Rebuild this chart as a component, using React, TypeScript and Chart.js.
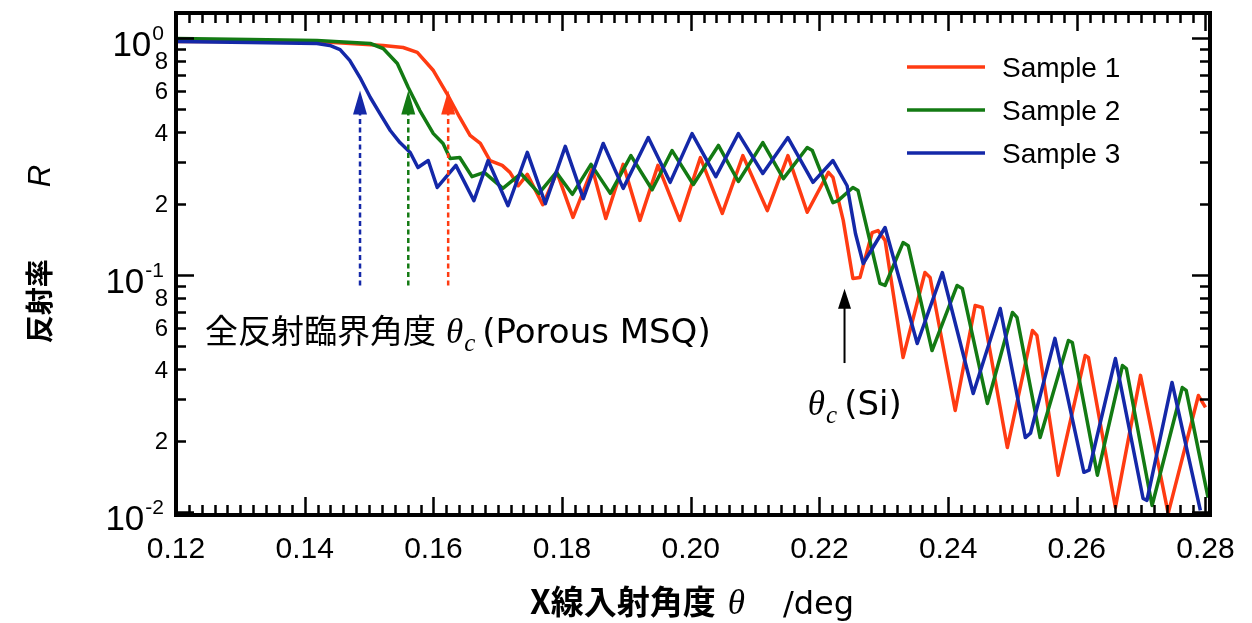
import React, { useEffect, useRef } from "react";
import { Chart, registerables } from "chart.js";

Chart.register(...registerables);

// ---------------- data ----------------
const sample1X = [0.12, 0.1315, 0.1419, 0.1522, 0.1553, 0.1575, 0.16, 0.1621, 0.1641, 0.1657, 0.1673, 0.1688, 0.1707, 0.1719, 0.1732, 0.1746, 0.177, 0.1792, 0.1817, 0.1847, 0.1868, 0.1895, 0.1921, 0.1949, 0.1983, 0.2015, 0.2049, 0.2081, 0.2119, 0.2151, 0.2181, 0.2214, 0.2221, 0.2237, 0.2252, 0.2263, 0.2282, 0.2291, 0.2302, 0.233, 0.2364, 0.2372, 0.2411, 0.2442, 0.2453, 0.2492, 0.2531, 0.2538, 0.2571, 0.2613, 0.2618, 0.266, 0.2699, 0.2742, 0.2789, 0.28];
const sample1R = [0.967, 0.967, 0.967, 0.93, 0.912, 0.869, 0.729, 0.583, 0.462, 0.388, 0.359, 0.304, 0.29, 0.271, 0.238, 0.266, 0.198, 0.271, 0.175, 0.281, 0.173, 0.293, 0.17, 0.29, 0.17, 0.313, 0.182, 0.319, 0.187, 0.319, 0.184, 0.271, 0.258, 0.17, 0.0966, 0.0976, 0.151, 0.154, 0.14, 0.0449, 0.1024, 0.0976, 0.0268, 0.0743, 0.0729, 0.0187, 0.0583, 0.0556, 0.0143, 0.0457, 0.0449, 0.01045, 0.0377, 0.00986, 0.031, 0.0276];

const sample2X = [0.12, 0.1315, 0.1419, 0.1502, 0.1522, 0.1544, 0.1561, 0.1579, 0.16, 0.1615, 0.1626, 0.1641, 0.166, 0.1679, 0.1708, 0.1736, 0.1764, 0.1791, 0.1816, 0.1845, 0.1875, 0.1907, 0.194, 0.1971, 0.2004, 0.2043, 0.2074, 0.2112, 0.2144, 0.2181, 0.2189, 0.2221, 0.2229, 0.2252, 0.226, 0.2294, 0.2302, 0.233, 0.2338, 0.2375, 0.2414, 0.2422, 0.2461, 0.25, 0.2507, 0.2543, 0.2587, 0.2593, 0.2632, 0.2671, 0.2677, 0.2717, 0.2764, 0.277, 0.2804];
const sample2R = [0.995, 0.986, 0.976, 0.948, 0.903, 0.781, 0.618, 0.494, 0.395, 0.359, 0.31, 0.313, 0.26, 0.271, 0.232, 0.268, 0.221, 0.271, 0.219, 0.293, 0.221, 0.319, 0.229, 0.335, 0.241, 0.352, 0.248, 0.362, 0.255, 0.345, 0.335, 0.202, 0.206, 0.234, 0.227, 0.0921, 0.0903, 0.137, 0.133, 0.048, 0.0903, 0.0877, 0.0287, 0.0695, 0.0662, 0.0206, 0.0529, 0.0519, 0.0143, 0.0415, 0.0403, 0.01065, 0.0335, 0.0326, 0.0115];

const sample3X = [0.12, 0.1315, 0.1419, 0.1439, 0.1455, 0.147, 0.1486, 0.1502, 0.1517, 0.1533, 0.1548, 0.1564, 0.1576, 0.1592, 0.1606, 0.1635, 0.1663, 0.1685, 0.1716, 0.1746, 0.1774, 0.1805, 0.1833, 0.1864, 0.1895, 0.1934, 0.1968, 0.2002, 0.2039, 0.2074, 0.2112, 0.2151, 0.219, 0.2221, 0.2243, 0.2256, 0.2268, 0.2302, 0.2352, 0.2391, 0.2439, 0.2481, 0.252, 0.2528, 0.2566, 0.2611, 0.2619, 0.266, 0.2703, 0.2709, 0.2748, 0.2792];
const sample3R = [0.967, 0.957, 0.948, 0.93, 0.894, 0.804, 0.681, 0.561, 0.48, 0.407, 0.362, 0.329, 0.284, 0.304, 0.234, 0.29, 0.206, 0.304, 0.196, 0.329, 0.2, 0.349, 0.21, 0.359, 0.232, 0.38, 0.246, 0.395, 0.26, 0.395, 0.268, 0.38, 0.246, 0.304, 0.238, 0.1496, 0.1118, 0.1586, 0.0514, 0.1024, 0.0316, 0.0722, 0.0206, 0.0215, 0.054, 0.0147, 0.015, 0.0444, 0.0114, 0.0112, 0.0352, 0.01015];

const seriesNames = ["Sample 1", "Sample 2", "Sample 3"];
const seriesColors = ["#ff3b12", "#137a13", "#1428a8"];

const xTickValues = [0.12, 0.14, 0.16, 0.18, 0.2, 0.22, 0.24, 0.26, 0.28];
const xTickLabels = ["0.12", "0.14", "0.16", "0.18", "0.20", "0.22", "0.24", "0.26", "0.28"];
const yDecades = [1, 0.1, 0.01];
const yDecadeExponents = ["0", "-1", "-2"];
const yMinorLabelDigits = [8, 6, 4, 2];

// critical-angle arrows (data units)
const porousCriticalAngles = [0.1623, 0.1561, 0.1486]; // Sample 1, 2, 3
const porousArrowTipR = 0.6;
const porousArrowBottomR = 0.089;
const siCriticalAngle = 0.2239;
const siArrowTipR = 0.0875;
const siArrowBottomR = 0.0425;
const porousLabelAt = { x: 0.1245, r: 0.0515 };
const siLabelAt = { x: 0.2182, r: 0.0257 };

const X_MIN = 0.12;
const X_MAX = 0.2807;
const Y_MIN = 0.00971;
const Y_MAX = 1.275;

// ---------------- drawing helpers ----------------
const SANS = '"Liberation Sans", Arial, sans-serif';
const WIDE = '"DejaVu Sans", "Liberation Sans", sans-serif';
const SERIF = '"Liberation Serif", "DejaVu Serif", serif';
const CJK = '"Noto Sans CJK JP", sans-serif';

type Run = { t: string; font: string; dy?: number; pad?: number };

function runsWidth(ctx: CanvasRenderingContext2D, runs: Run[]) {
  let w = 0;
  for (const r of runs) {
    ctx.font = r.font;
    w += ctx.measureText(r.t).width + (r.pad || 0);
  }
  return w;
}

function drawRuns(
  ctx: CanvasRenderingContext2D,
  runs: Run[],
  x: number,
  y: number,
  align: "left" | "center" | "right"
) {
  const w = runsWidth(ctx, runs);
  let cx = align === "left" ? x : align === "center" ? x - w / 2 : x - w;
  ctx.textAlign = "left";
  ctx.textBaseline = "alphabetic";
  for (const r of runs) {
    ctx.font = r.font;
    if (r.t) ctx.fillText(r.t, cx, y + (r.dy || 0));
    cx += ctx.measureText(r.t).width + (r.pad || 0);
  }
}

function arrowHead(
  ctx: CanvasRenderingContext2D,
  x: number,
  tipY: number,
  w: number,
  h: number
) {
  ctx.beginPath();
  ctx.moveTo(x, tipY);
  ctx.lineTo(x - w / 2, tipY + h);
  ctx.lineTo(x + w / 2, tipY + h);
  ctx.closePath();
  ctx.fill();
}

const decorPlugin = {
  id: "decor",
  afterDraw(chart: any) {
    const { ctx, chartArea: a } = chart;
    const xs = chart.scales.x;
    const ys = chart.scales.y;
    ctx.save();
    ctx.strokeStyle = "#000";
    ctx.fillStyle = "#000";
    ctx.lineCap = "butt";

    // ticks (inward, mirrored)
    ctx.lineWidth = 2.5;
    ctx.beginPath();
    for (let i = 0; i <= 80; i++) {
      const v = X_MIN + i * 0.002;
      const px = Math.round(xs.getPixelForValue(v)) + 0.5;
      if (px > a.right + 1) break;
      const len = i % 10 === 0 ? 18 : 10;
      ctx.moveTo(px, a.bottom);
      ctx.lineTo(px, a.bottom - len);
      ctx.moveTo(px, a.top);
      ctx.lineTo(px, a.top + len);
    }
    for (const d of yDecades) {
      for (let m = 1; m <= 9; m++) {
        const v = m * d;
        if (v < Y_MIN || v > Y_MAX) continue;
        const py = Math.round(ys.getPixelForValue(v)) + 0.5;
        const len = m === 1 ? 18 : 10;
        ctx.moveTo(a.left, py);
        ctx.lineTo(a.left + len, py);
        ctx.moveTo(a.right, py);
        ctx.lineTo(a.right - len, py);
      }
    }
    ctx.stroke();

    // frame
    ctx.lineWidth = 4;
    ctx.strokeRect(a.left, a.top, a.right - a.left, a.bottom - a.top);

    // y tick labels
    yDecades.forEach((d, i) => {
      const py = ys.getPixelForValue(d);
      drawRuns(
        ctx,
        [
          { t: "10", font: `35px ${SANS}`, pad: 1 },
          { t: yDecadeExponents[i], font: `21px ${SANS}`, dy: -16 },
        ],
        a.left - 12,
        py + 18,
        "right"
      );
      yMinorLabelDigits.forEach((m) => {
        const v = m * d;
        if (v < Y_MIN || v > Y_MAX) return;
        const p = ys.getPixelForValue(v);
        drawRuns(ctx, [{ t: String(m), font: `24px ${SANS}` }], a.left - 8, p + 8.5, "right");
      });
    });

    // y axis title
    ctx.save();
    ctx.translate(50, 254);
    ctx.rotate(-Math.PI / 2);
    drawRuns(
      ctx,
      [
        { t: "反射率", font: `bold 28px ${CJK}`, pad: 72 },
        { t: "R", font: `italic 31px ${SANS}` },
      ],
      0,
      0,
      "center"
    );
    ctx.restore();

    // x axis title
    drawRuns(
      ctx,
      [
        { t: "X線入射角度", font: `bold 33px ${CJK}`, pad: 12 },
        { t: "θ", font: `italic 35px ${SERIF}`, pad: 38 },
        { t: "/deg", font: `32px ${WIDE}` },
      ],
      692,
      614,
      "center"
    );

    // legend
    chart.data.datasets.forEach((ds: any, i: number) => {
      const ly = 67 + i * 43;
      ctx.strokeStyle = ds.borderColor;
      ctx.lineWidth = 3.5;
      ctx.beginPath();
      ctx.moveTo(907, ly);
      ctx.lineTo(985, ly);
      ctx.stroke();
      ctx.fillStyle = "#000";
      drawRuns(ctx, [{ t: ds.label, font: `28px ${SANS}` }], 1002, ly + 10, "left");
    });

    // porous critical-angle arrows (dotted)
    const tipPy = ys.getPixelForValue(porousArrowTipR);
    const botPy = ys.getPixelForValue(porousArrowBottomR);
    porousCriticalAngles.forEach((ang, i) => {
      const px = xs.getPixelForValue(ang);
      ctx.strokeStyle = seriesColors[i];
      ctx.fillStyle = seriesColors[i];
      ctx.lineWidth = 2.5;
      ctx.setLineDash([5, 3.5]);
      ctx.beginPath();
      ctx.moveTo(px, tipPy + 20);
      ctx.lineTo(px, botPy);
      ctx.stroke();
      ctx.setLineDash([]);
      arrowHead(ctx, px, tipPy, 14, 24);
    });

    // Si critical-angle arrow
    {
      const px = xs.getPixelForValue(siCriticalAngle);
      const t = ys.getPixelForValue(siArrowTipR);
      const b = ys.getPixelForValue(siArrowBottomR);
      ctx.strokeStyle = "#000";
      ctx.fillStyle = "#000";
      ctx.lineWidth = 2;
      ctx.beginPath();
      ctx.moveTo(px, t + 10);
      ctx.lineTo(px, b);
      ctx.stroke();
      arrowHead(ctx, px, t, 13, 20);
    }

    // annotation texts
    ctx.fillStyle = "#000";
    drawRuns(
      ctx,
      [
        { t: "全反射臨界角度", font: `33px ${CJK}`, pad: 10 },
        { t: "θ", font: `italic 35px ${SERIF}`, pad: 1 },
        { t: "c", font: `italic 25px ${SERIF}`, dy: 8, pad: 7 },
        { t: "(Porous MSQ)", font: `34px ${WIDE}` },
      ],
      xs.getPixelForValue(porousLabelAt.x),
      ys.getPixelForValue(porousLabelAt.r),
      "left"
    );
    drawRuns(
      ctx,
      [
        { t: "θ", font: `italic 35px ${SERIF}`, pad: 1 },
        { t: "c", font: `italic 25px ${SERIF}`, dy: 8, pad: 7 },
        { t: "(Si)", font: `34px ${WIDE}` },
      ],
      xs.getPixelForValue(siLabelAt.x),
      ys.getPixelForValue(siLabelAt.r),
      "left"
    );

    ctx.restore();
  },
};

function toPoints(xv: number[], rv: number[]) {
  return xv.map((x, i) => ({ x, y: rv[i] }));
}

export default function App() {
  const ref = useRef<HTMLCanvasElement | null>(null);

  useEffect(() => {
    if (!ref.current) return;
    const sets = [
      [sample1X, sample1R],
      [sample2X, sample2R],
      [sample3X, sample3R],
    ];
    const chart = new Chart(ref.current, {
      type: "line",
      data: {
        datasets: sets.map(([xv, rv], i) => ({
          label: seriesNames[i],
          data: toPoints(xv, rv),
          borderColor: seriesColors[i],
          backgroundColor: seriesColors[i],
          borderWidth: 3.5,
          pointRadius: 0,
          tension: 0,
          fill: false,
          order: 2 - i,
          borderJoinStyle: "round" as const,
        })),
      },
      options: {
        animation: false,
        responsive: false,
        events: [],
        layout: { padding: { top: 13, right: 42, left: 0, bottom: 0 } },
        plugins: {
          legend: { display: false },
          tooltip: { enabled: false },
        },
        scales: {
          x: {
            type: "linear",
            min: X_MIN,
            max: X_MAX,
            grid: { display: false, drawTicks: false },
            border: { display: false },
            afterBuildTicks: (s: any) => {
              s.ticks = xTickValues.map((v) => ({ value: v }));
            },
            ticks: {
              autoSkip: false,
              maxRotation: 0,
              padding: 17,
              color: "#000",
              font: { family: "Liberation Sans", size: 30 },
              callback: (_v: any, i: number) => xTickLabels[i],
            },
            afterFit: (s: any) => {
              s.height = 108;
            },
          },
          y: {
            type: "logarithmic",
            min: Y_MIN,
            max: Y_MAX,
            grid: { display: false, drawTicks: false },
            border: { display: false },
            ticks: { display: false },
            afterFit: (s: any) => {
              s.width = 176;
            },
          },
        },
      },
      plugins: [decorPlugin],
    });
    return () => chart.destroy();
  }, []);

  return (
    <div style={{ position: "absolute", left: 0, top: 0, width: 1252, height: 623, background: "#fff" }}>
      <canvas ref={ref} width={1252} height={623} />
    </div>
  );
}
